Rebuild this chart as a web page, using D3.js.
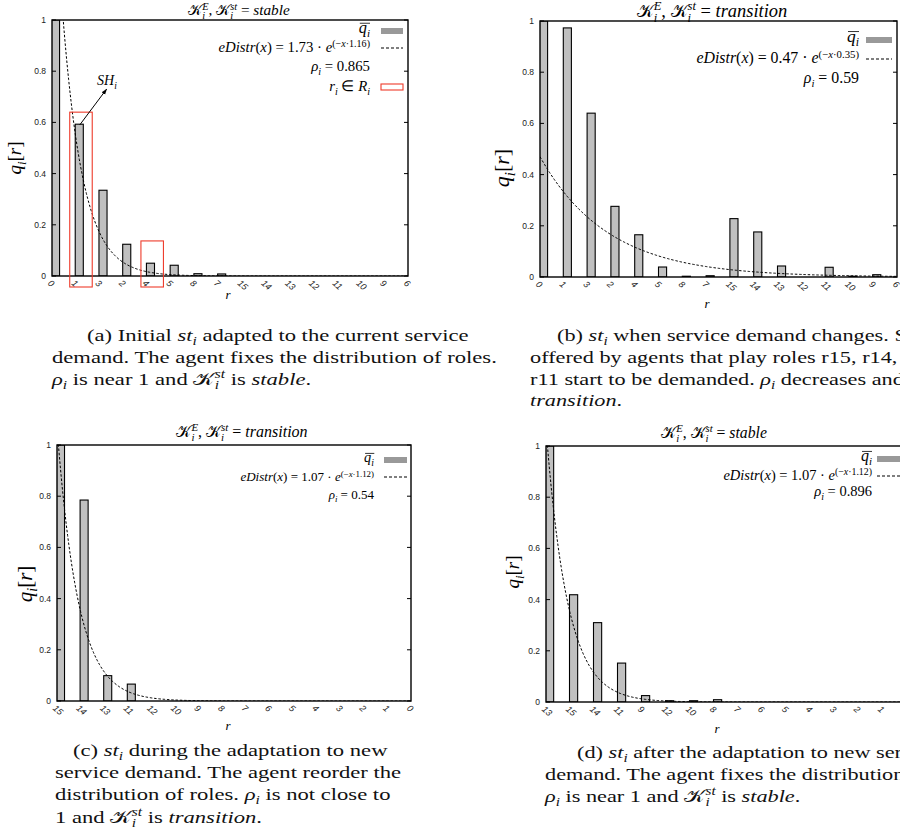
<!DOCTYPE html>
<html><head><meta charset="utf-8">
<script src="https://cdn.jsdelivr.net/npm/d3@7"></script>
<style>
html,body{margin:0;padding:0;background:#fff;}
svg{display:block;}
</style></head>
<body>
<script>
// ---------------- DATA ----------------
const catsA = ["0","1","3","2","4","5","8","7","15","14","13","12","11","10","9","6"];
const valsA = [1.0,0.593,0.335,0.124,0.05,0.042,0.009,0.008,0,0,0,0,0,0,0,0];
const catsB = ["0","1","3","2","4","5","8","7","15","14","13","12","11","10","9","6"];
const valsB = [1.0,0.973,0.64,0.276,0.165,0.039,0.003,0.005,0.228,0.176,0.043,0,0.038,0.003,0.009,0];
const catsC = ["15","14","13","11","12","10","9","8","7","6","5","4","3","2","1","0"];
const valsC = [1.0,0.785,0.099,0.066,0,0,0,0,0,0,0,0,0,0,0,0];
const catsD = ["13","15","14","11","9","12","10","8","7","6","5","4","3","2","1","0"];
const valsD = [1.0,0.419,0.31,0.152,0.025,0.005,0.005,0.009,0,0,0,0,0,0,0,0];
const fitAmp  = [1.73, 0.47, 1.07, 1.07];
const fitRate = ["1.16", "0.35", "1.12", "1.12"];
const fitAmpLabel = ["1.73", "0.47", "1.07", "1.07"];
const rhoLabels = ["0.865", "0.59", "0.54", "0.896"];
const states = ["stable", "transition", "transition", "stable"];
const yTicks = [0, 0.2, 0.4, 0.6, 0.8, 1];
const yTickLabels = ["0", "0.2", "0.4", "0.6", "0.8", "1"];
// annotation in panel (a): roles in R_i (category index, top value of box)
const redBoxIdx = [1, 4];
const redBoxTop = [0.64, 0.137];
const shArrowFrom = [1, 0.59];   // category index, value
const shArrowTo = [2.3, 0.73];

// ---------------- LAYOUT ----------------
const layout = [
  {L:52, T:20, R:408, B:276, tx:239, ty:15, tw:102, lxr:370, sw:[381,403], rows:[31,48,67,87], lw:152, yl:[21,158,19], xl:[228,299]},
  {L:540,T:21, R:897, B:277, tx:712, ty:17, tw:151, lxr:859, sw:[866,892], rows:[40,59,79], lw:163, yl:[509,168,22], xl:[707,308]},
  {L:57, T:445,R:411, B:701, tx:242, ty:437,tw:131, lxr:374, sw:[384,407], rows:[460,477,495], lw:134, yl:[32,584,21], xl:[228,730]},
  {L:546,T:446,R:906, B:702, tx:714, ty:438,tw:105, lxr:872, sw:[877,905], rows:[459,476,492], lw:149, yl:[519,572,19], xl:[717,733]}
];
const cats = [catsA, catsB, catsC, catsD];
const vals = [valsA, valsB, valsC, valsD];

const SERIF = "Liberation Serif, Times New Roman, Times, serif";
const SANS = "Liberation Sans, Arial, Helvetica, sans-serif";
const KCAL = "𝒦";

const svg = d3.select("body").append("svg").attr("width",900).attr("height",840);
svg.append("rect").attr("width",900).attr("height",840).attr("fill","#fff");

// rich text helper
function rich(g, x, y, segs, size, anchor, supShift) {
  const t = g.append("text").attr("x",x).attr("y",y).attr("font-size",size)
    .attr("font-family",SERIF).attr("text-anchor",anchor||"start").attr("fill","#000");
  let cur = 0, pendDx = 0;
  const SUP = supShift || -0.40, SUB = 0.25;
  segs.forEach(s => {
    if (s.stack) {
      const fs = size*0.68;
      const a = t.append("tspan").attr("font-size",fs).attr("font-style","italic")
        .attr("dy",(SUP*size-cur)).attr("dx",pendDx).text(s.sup);
      cur = SUP*size; pendDx = 0;
      const wa = a.node().getComputedTextLength();
      const b = t.append("tspan").attr("font-size",fs).attr("font-style","italic")
        .attr("dx",-wa).attr("dy",(SUB*size-cur)).text(s.sub);
      cur = SUB*size;
      const wb = b.node().getComputedTextLength();
      pendDx = Math.max(0, wa-wb);
      return;
    }
    const target = s.sup ? SUP*size : (s.sub ? SUB*size : 0);
    const sp = t.append("tspan").attr("font-size", (s.sup||s.sub)? size*0.68 : size)
      .attr("font-style", s.i ? "italic" : "normal")
      .attr("dy", target-cur).text(s.t);
    if (pendDx) { sp.attr("dx", pendDx); pendDx = 0; }
    cur = target;
  });
  return t;
}
function fitFont(t, width) {
  const w = t.node().getBBox().width;
  const fs = +t.attr("font-size");
  const k = width / w;
  t.attr("font-size", fs*k);
  t.selectAll("tspan").each(function(){
    const s = d3.select(this);
    if (s.attr("font-size")) s.attr("font-size", +s.attr("font-size")*k);
    ["dy","dx"].forEach(a => { if (s.attr(a)!==null && s.attr(a)!=="") s.attr(a, +s.attr(a)*k); });
  });
  return k;
}

layout.forEach((P, pi) => {
  const g = svg.append("g");
  const n = cats[pi].length;
  const x = d3.scaleLinear().domain([0, n-1]).range([P.L, P.R]);
  const y = d3.scaleLinear().domain([0, 1]).range([P.B, P.T]);
  const clipId = "clip"+pi;
  svg.append("clipPath").attr("id",clipId).append("rect")
    .attr("x",P.L).attr("y",P.T).attr("width",P.R-P.L).attr("height",P.B-P.T);

  // bars
  const bw = (P.R-P.L)/(n-1)*0.34;
  g.append("g").attr("clip-path","url(#"+clipId+")")
    .selectAll("rect").data(vals[pi]).join("rect")
    .attr("x",(d,i)=>x(i)-0.5).attr("width",bw)
    .attr("y",d=>y(d)).attr("height",d=>P.B-y(d))
    .attr("fill","#c0c0c0").attr("stroke","#000").attr("stroke-width",1.1);

  // fitted exponential curve
  const xs = d3.range(0, n-1+0.001, 0.05);
  const line = d3.line().x(d=>x(d)).y(d=>y(fitAmp[pi]*Math.exp(-d*(+fitRate[pi]))));
  g.append("path").attr("clip-path","url(#"+clipId+")").datum(xs).attr("d",line)
    .attr("fill","none").attr("stroke","#000").attr("stroke-width",1).attr("stroke-dasharray","2.5,1.8");

  // frame
  g.append("rect").attr("x",P.L).attr("y",P.T).attr("width",P.R-P.L).attr("height",P.B-P.T)
    .attr("fill","none").attr("stroke","#000").attr("stroke-width",1.4);

  // y ticks (inward, mirrored)
  const ta = g.append("g");
  ta.selectAll("line.l").data(yTicks).join("line").attr("class","l")
    .attr("x1",P.L).attr("x2",P.L+4).attr("y1",d=>y(d)).attr("y2",d=>y(d)).attr("stroke","#000");
  ta.selectAll("line.r").data(yTicks).join("line").attr("class","r")
    .attr("x1",P.R).attr("x2",P.R-4).attr("y1",d=>y(d)).attr("y2",d=>y(d)).attr("stroke","#000");
  ta.selectAll("text").data(yTicks).join("text")
    .attr("x",P.L-6).attr("y",d=>y(d)+3).attr("text-anchor","end")
    .attr("font-family",SANS).attr("font-size",8.5).attr("fill","#222")
    .text((d,i)=>yTickLabels[i]);

  // x tick labels rotated
  g.append("g").selectAll("text").data(cats[pi]).join("text")
    .attr("transform",(d,i)=>`translate(${x(i)-3},${P.B+6}) rotate(42)`)
    .attr("font-family",SANS).attr("font-size",9).attr("font-style","italic").attr("fill","#222")
    .attr("dy","0.3em").text(d=>d);

  // axis labels
  const yl = rich(g, 0, 0, [{t:"q",i:1},{t:"i",i:1,sub:1},{t:"["},{t:"r",i:1},{t:"]"}], P.yl[2], "middle");
  yl.attr("transform",`translate(${P.yl[0]},${P.yl[1]}) rotate(-90)`);
  rich(g, P.xl[0], P.xl[1], [{t:"r",i:1}], 13, "middle");

  // title
  const tt = rich(g, P.tx, P.ty, [{t:KCAL},{stack:1,sup:"E",sub:"i"},{t:", "},{t:KCAL},{stack:1,sup:"st",sub:"i"},{t:" = "},{t:states[pi],i:1}], 14, "middle", -0.36);
  fitFont(tt, P.tw);

  // legend
  const e = rich(g, P.lxr, P.rows[1]+4, [{t:"eDistr",i:1},{t:"("},{t:"x",i:1},{t:") = "+fitAmpLabel[pi]+" · "},{t:"e",i:1},{t:"(−",sup:1},{t:"x",i:1,sup:1},{t:"·"+fitRate[pi]+")",sup:1}], 12, "end", -0.34);
  const k = fitFont(e, P.lw);
  const fs = 12*k;
  const q = rich(g, P.lxr, P.rows[0]+2, [{t:"q",i:1},{t:"i",i:1,sub:1}], fs*1.1, "end");
  const qb = q.node().getBBox();
  const oy = P.rows[0]+2 - fs*0.66;
  g.append("line").attr("x1",qb.x+1).attr("x2",qb.x+qb.width).attr("y1",oy).attr("y2",oy)
    .attr("stroke","#000").attr("stroke-width",0.8);
  rich(g, P.lxr, P.rows[2]+4, [{t:"ρ",i:1},{t:"i",i:1,sub:1},{t:" = "+rhoLabels[pi]}], fs, "end");
  g.append("rect").attr("x",P.sw[0]).attr("width",P.sw[1]-P.sw[0]).attr("y",P.rows[0]-3).attr("height",6)
    .attr("fill","#999");
  g.append("line").attr("x1",P.sw[0]).attr("x2",P.sw[1]).attr("y1",P.rows[1]).attr("y2",P.rows[1])
    .attr("stroke","#000").attr("stroke-width",1.2).attr("stroke-dasharray","3,2");

  if (pi === 0) {
    rich(g, P.lxr, P.rows[3]+4, [{t:"r",i:1},{t:"i",i:1,sub:1},{t:" ∈ "},{t:"R",i:1},{t:"i",i:1,sub:1}], fs, "end");
    g.append("rect").attr("x",P.sw[0]).attr("width",P.sw[1]-P.sw[0]).attr("y",P.rows[3]-3).attr("height",6)
      .attr("fill","none").attr("stroke","#ee3b2b").attr("stroke-width",1.1);
    // red boxes
    g.selectAll("rect.rb").data(redBoxIdx).join("rect").attr("class","rb")
      .attr("x",d=>x(d)-6).attr("width",22.5)
      .attr("y",(d,i)=>y(redBoxTop[i])).attr("height",(d,i)=>P.B+11-y(redBoxTop[i]))
      .attr("fill","none").attr("stroke","#ee3b2b").attr("stroke-width",1.1);
    // arrow
    const defs = svg.append("defs");
    defs.append("marker").attr("id","arr").attr("viewBox","0 0 10 10").attr("refX",9).attr("refY",5)
      .attr("markerWidth",6).attr("markerHeight",6).attr("orient","auto")
      .append("path").attr("d","M0,1.5 L10,5 L0,8.5 z").attr("fill","#000");
    g.append("line").attr("x1",x(shArrowFrom[0])+4).attr("y1",y(shArrowFrom[1]))
      .attr("x2",x(shArrowTo[0])).attr("y2",y(shArrowTo[1]))
      .attr("stroke","#000").attr("stroke-width",1).attr("marker-end","url(#arr)");
    rich(g, 97, 85, [{t:"SH",i:1},{t:"i",i:1,sub:1}], 14, "start");
  }
});

// ---------------- CAPTIONS ----------------
const K = {t:KCAL}, KST = {stack:1,sup:"st",sub:"i"};
const captions = [
  [87,341,[{t:"(a) Initial "},{t:"st",i:1},{t:"i",i:1,sub:1},{t:" adapted to the current service"}]],
  [52,363,[{t:"demand. The agent fixes the distribution of roles."}], 445],
  [52,385,[{t:"ρ",i:1},{t:"i",i:1,sub:1},{t:" is near 1 and "},K,KST,{t:" is "},{t:"stable",i:1},{t:"."}]],
  [557,341,[{t:"(b) "},{t:"st",i:1},{t:"i",i:1,sub:1},{t:" when service demand changes. Services"}]],
  [530,363,[{t:"offered by agents that play roles r15, r14, r13 and"}]],
  [530,385,[{t:"r11 start to be demanded. "},{t:"ρ",i:1},{t:"i",i:1,sub:1},{t:" decreases and "},K,KST,{t:" is"}]],
  [530,406,[{t:"transition",i:1},{t:"."}]],
  [73,756,[{t:"(c) "},{t:"st",i:1},{t:"i",i:1,sub:1},{t:" during the adaptation to new"}]],
  [55,778,[{t:"service demand. The agent reorder the"}]],
  [55,800,[{t:"distribution of roles. "},{t:"ρ",i:1},{t:"i",i:1,sub:1},{t:" is not close to"}]],
  [55,823,[{t:"1 and "},K,KST,{t:" is "},{t:"transition",i:1},{t:"."}]],
  [577,758,[{t:"(d) "},{t:"st",i:1},{t:"i",i:1,sub:1},{t:" after the adaptation to new service"}]],
  [545,780,[{t:"demand. The agent fixes the distribution of roles."}]],
  [545,802,[{t:"ρ",i:1},{t:"i",i:1,sub:1},{t:" is near 1 and "},K,KST,{t:" is "},{t:"stable",i:1},{t:"."}]]
];
const capG = svg.append("g");
const capSize = 17;
const texts = captions.map(c => rich(capG, 0, 0, c[2], capSize, "start").attr("fill","#111"));
const refW = texts[1].node().getBBox().width;
const sx = 445 / refW;
texts.forEach((t,i) => t.attr("transform",`translate(${captions[i][0]},${captions[i][1]}) scale(${sx*(captions[i][0]>500?0.985:1)},1)`));
</script>
</body></html>
